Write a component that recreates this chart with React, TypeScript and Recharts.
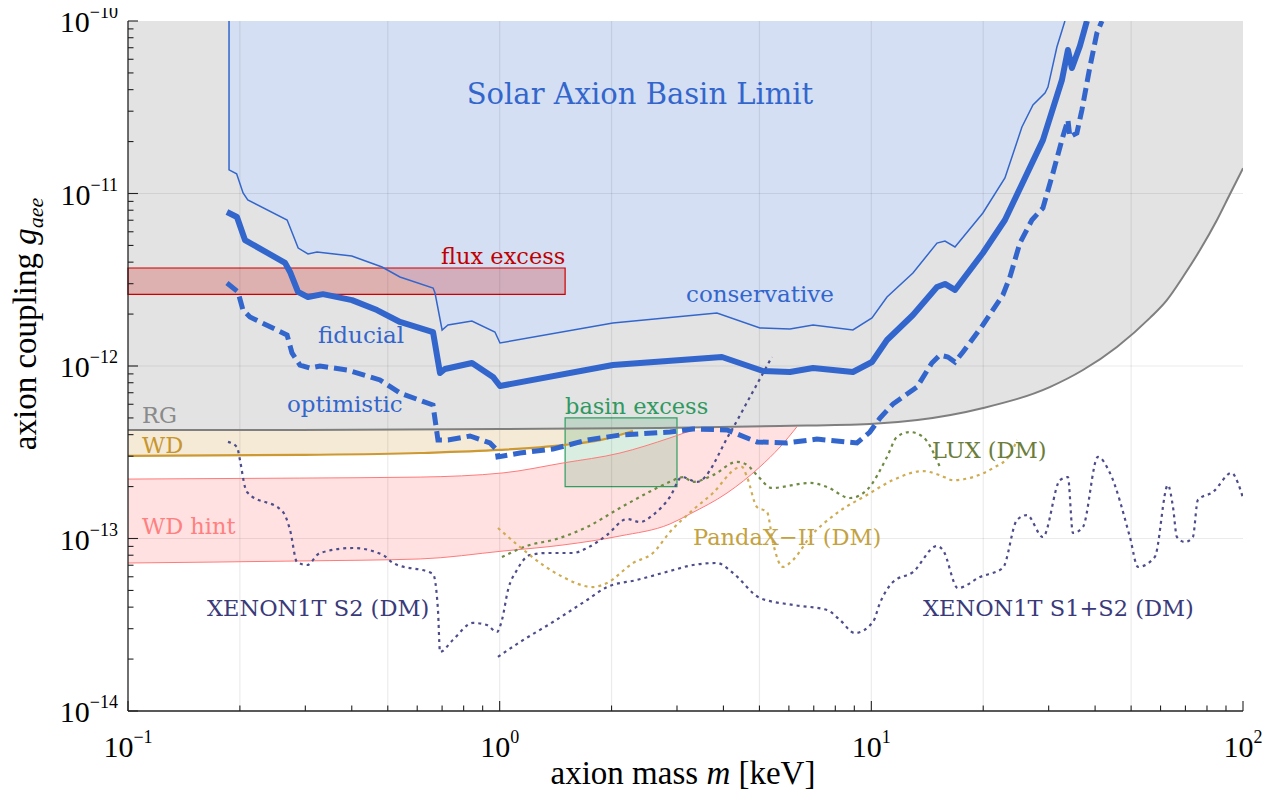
import React from "react";
import {
  ComposedChart,
  Area,
  Line,
  XAxis,
  YAxis,
  ReferenceArea,
  ReferenceLine,
} from "recharts";

type Pt = [number, number];

// axis ticks (log axes, minor ticks at 2..9)
const massTicks = [
  0.1, 0.2, 0.3, 0.4, 0.5, 0.6, 0.7, 0.8, 0.9,
  1, 2, 3, 4, 5, 6, 7, 8, 9,
  10, 20, 30, 40, 50, 60, 70, 80, 90, 100,
];
const couplingTicks = [
  1e-14, 2e-14, 3e-14, 4e-14, 5e-14, 6e-14, 7e-14, 8e-14, 9e-14,
  1e-13, 2e-13, 3e-13, 4e-13, 5e-13, 6e-13, 7e-13, 8e-13, 9e-13,
  1e-12, 2e-12, 3e-12, 4e-12, 5e-12, 6e-12, 7e-12, 8e-12, 9e-12,
  1e-11, 2e-11, 3e-11, 4e-11, 5e-11, 6e-11, 7e-11, 8e-11, 9e-11,
  1e-10,
];
const massGrid = [0.2, 0.5, 1, 2, 5, 10, 20, 50];
const couplingGrid = [1e-13, 1e-12, 1e-11];
const massDomain = [0.1, 100];
const couplingDomain = [1e-14, 1e-10];

// [mass keV, g_aee]
const redGiant: Pt[] = [
  [0.1, 4.26e-13], [0.29, 4.26e-13], [1.0, 4.31e-13], [2.7, 4.37e-13],
  [5.68, 4.49e-13], [9.91, 4.61e-13], [13.3, 4.86e-13], [20, 5.71e-13],
  [30.2, 7.55e-13], [37.1, 9.48e-13], [45.8, 1.29e-12], [56.2, 1.9e-12],
  [62.4, 2.41e-12], [68.9, 3.28e-12], [76.6, 4.7e-12], [85.1, 7.02e-12],
  [92.2, 9.9e-12], [100, 1.4e-11],
];

const conservative: Pt[] = [
  [0.187, 1e-10], [0.187, 1.37e-11], [0.196, 1.3e-11], [0.204, 1.007e-11],
  [0.21, 9.17e-12], [0.268, 7.02e-12], [0.276, 5.98e-12], [0.287, 4.83e-12],
  [0.305, 4.46e-12], [0.3225, 4.58e-12], [0.4, 4.34e-12], [0.4825, 3.75e-12],
  [0.539, 3.28e-12], [0.662, 2.83e-12], [0.67, 2.65e-12], [0.7, 1.617e-12],
  [0.726, 1.729e-12], [0.842, 1.823e-12], [0.971, 1.574e-12], [1.002, 1.359e-12],
  [2.017, 1.775e-12], [3.842, 2.03e-12], [5.016, 1.661e-12], [6.04, 1.639e-12],
  [6.97, 1.729e-12], [8.92, 1.617e-12], [10.04, 1.898e-12], [11.02, 2.512e-12],
  [12.94, 3.46e-12], [15.02, 5.16e-12], [15.78, 5.3e-12], [16.79, 4.9e-12],
  [19.96, 7.71e-12], [22.88, 1.23e-11], [25.42, 2.43e-11], [27.22, 3.26e-11],
  [29.32, 3.82e-11], [29.87, 4.14e-11], [31.57, 7.07e-11], [33.18, 1e-10],
];

const fiducial: Pt[] = [
  [0.1846, 7.81e-12], [0.1964, 7.31e-12], [0.2064, 5.37e-12], [0.2646, 3.96e-12],
  [0.2729, 3.51e-12], [0.2867, 2.69e-12], [0.305, 2.51e-12], [0.3346, 2.61e-12],
  [0.4005, 2.41e-12], [0.4676, 2.11e-12], [0.5393, 1.8e-12], [0.6617, 1.574e-12],
  [0.691, 9.11e-13], [0.7124, 9.61e-13], [0.8424, 1.041e-12], [0.9594, 8.64e-13],
  [1.002, 7.66e-13], [2.017, 1.013e-12], [3.963, 1.128e-12], [5.11, 9.35e-13],
  [6.04, 9.23e-13], [6.97, 9.74e-13], [8.92, 9.23e-13], [10.04, 1.055e-12],
  [11.02, 1.415e-12], [12.94, 1.975e-12], [15.02, 2.87e-12], [15.78, 2.99e-12],
  [16.79, 2.76e-12], [19.96, 4.52e-12], [22.88, 7.02e-12], [28.95, 2.04e-11],
  [32.57, 4.55e-11], [33.8, 6.79e-11], [34.65, 5.34e-11], [36.41, 7.16e-11],
  [38.02, 1e-10],
];

const optimistic: Pt[] = [
  [0.1846, 3.03e-12], [0.1976, 2.69e-12], [0.2039, 2.11e-12], [0.2129, 1.923e-12],
  [0.2679, 1.513e-12], [0.2762, 1.19e-12], [0.2902, 1.013e-12], [0.3087, 9.74e-13],
  [0.3284, 1e-12], [0.3884, 9.48e-13], [0.4764, 8.3e-13], [0.5393, 6.97e-13],
  [0.6617, 5.94e-13], [0.6823, 3.72e-13], [0.7261, 3.72e-13], [0.832, 3.93e-13],
  [0.9417, 3.58e-13], [0.983, 3.26e-13], [0.9895, 2.97e-13], [1.134, 3.13e-13],
  [1.391, 3.3e-13], [1.718, 3.72e-13], [2.107, 3.98e-13], [2.872, 4.14e-13],
  [3.311, 4.31e-13], [4.09, 4.26e-13], [4.923, 3.63e-13], [5.93, 3.58e-13],
  [7.14, 3.77e-13], [9.15, 3.58e-13], [9.91, 4.14e-13], [10.55, 4.99e-13],
  [11.43, 6.02e-13], [13.27, 7.55e-13], [14.55, 1.041e-12], [15.29, 1.158e-12],
  [16.07, 1.128e-12], [16.79, 1.055e-12], [17.64, 1.206e-12], [19.96, 1.729e-12],
  [22.59, 2.58e-12], [23.6, 3.28e-12], [25.1, 5.16e-12], [27.04, 7.02e-12],
  [28.95, 8.24e-12], [30.81, 1.315e-11], [32.78, 2.15e-11], [33.8, 2.67e-11],
  [34.21, 2.13e-11], [35.73, 2.24e-11], [36.86, 3.05e-11], [38.73, 5.41e-11],
  [40.45, 8.52e-11], [41.73, 1e-10],
];

const whiteDwarf: Pt[] = [
  [0.1, 3.01e-13], [0.29, 3.05e-13], [0.611, 3.13e-13], [1.0, 3.26e-13],
  [1.48, 3.48e-13], [1.862, 3.72e-13], [2.284, 4.2e-13],
];
const whiteDwarfTop = 4.3e-13;

const hintMass = [0.1, 0.29, 0.611, 1.021, 1.48, 2.107, 2.872, 3.25, 4.09, 5.01, 5.68, 6.31];
const hintLow = [
  7.21e-14, 7.41e-14, 7.61e-14, 8.46e-14, 9.17e-14, 1.034e-13,
  1.214e-13, 1.387e-13, 1.835e-13, 2.597e-13, 3.39e-13, 4.45e-13,
];
const hintHigh = [
  2.21e-13, 2.24e-13, 2.27e-13, 2.4e-13, 2.74e-13, 3.13e-13,
  3.83e-13, 4.2e-13, 4.42e-13, 4.46e-13, 4.49e-13, 4.52e-13,
];

const xenonS2: Pt[] = [
  [0.1858, 3.63e-13], [0.1964, 3.39e-13], [0.2001, 2.85e-13], [0.2064, 1.99e-13],
  [0.209, 1.86e-13], [0.2612, 1.424e-13], [0.2729, 1.12e-13], [0.2849, 7.31e-14],
  [0.3032, 7.02e-14], [0.3284, 8.24e-14], [0.403, 8.81e-14], [0.4853, 8.02e-14],
  [0.5164, 7.21e-14], [0.6617, 6.23e-14], [0.6823, 3.85e-14], [0.691, 2.2e-14],
  [0.7483, 2.58e-14], [0.8476, 3.24e-14], [0.9243, 3.15e-14], [0.983, 2.87e-14],
  [1.0144, 3.37e-14], [1.053, 5.03e-14], [1.113, 6.57e-14], [1.206, 8.02e-14],
  [1.34, 8.24e-14], [1.575, 8.24e-14], [1.718, 8.81e-14], [1.944, 1.048e-13],
  [2.2, 1.297e-13], [2.385, 1.246e-13], [2.585, 1.368e-13], [2.872, 1.74e-13],
  [3.094, 2.27e-13], [3.395, 2.13e-13], [4.166, 4.09e-13], [4.714, 6.61e-13],
  [5.4, 1.128e-12],
];

const xenonS1S2: Pt[] = [
  [0.9895, 2.06e-14], [1.134, 2.51e-14], [1.391, 3.28e-14], [1.718, 4.4e-14],
  [1.944, 5.23e-14], [2.341, 5.75e-14], [2.872, 6.48e-14], [3.311, 7.02e-14],
  [3.842, 7.21e-14], [4.243, 6.31e-14], [5.016, 4.52e-14], [6.152, 4.12e-14],
  [7.6, 3.85e-14], [8.234, 3.37e-14], [9.03, 2.83e-14], [10.1, 3.28e-14],
  [10.55, 4.23e-14], [11.43, 5.59e-14], [12.94, 6.39e-14], [15.02, 9.05e-14],
  [15.58, 8.58e-14], [17.1, 5.16e-14], [19.6, 5.98e-14], [22.59, 6.75e-14],
  [24.65, 1.28e-13], [26.22, 1.368e-13], [28.95, 1.02e-13], [32.17, 2.18e-13],
  [33.8, 2.27e-13], [34.86, 1.076e-13], [37.09, 1.166e-13], [40.7, 2.97e-13],
  [43.85, 2.4e-13], [49.63, 1.02e-13], [52.15, 6.84e-14], [57.9, 7.81e-14],
  [62.8, 2.04e-13], [64.8, 1.523e-13], [66.4, 1.02e-13], [69.8, 9.54e-14],
  [73.3, 1.02e-13], [75.6, 1.672e-13], [83, 1.86e-13], [93.3, 2.4e-13],
  [96.9, 2.1e-13], [100, 1.717e-13],
];

const lux: Pt[] = [
  [1.0144, 7.81e-14], [1.206, 9.17e-14], [1.391, 9.8e-14], [1.718, 1.166e-13],
  [2.107, 1.503e-13], [2.585, 1.91e-13], [2.872, 2.13e-13], [3.112, 2.27e-13],
  [3.311, 2.13e-13], [3.748, 2.33e-13], [4.35, 2.78e-13], [4.63, 2.67e-13],
  [4.923, 2.33e-13], [5.4, 1.963e-13], [6.84, 2.1e-13], [7.6, 1.99e-13],
  [8.76, 1.717e-13], [9.73, 1.91e-13], [11.02, 2.97e-13], [11.72, 3.88e-13],
  [12.7, 4.14e-13], [13.77, 3.88e-13], [15.29, 2.6e-13],
];

const pandax: Pt[] = [
  [0.9895, 1.151e-13], [1.134, 8.93e-14], [1.308, 7.02e-14], [1.48, 5.98e-14],
  [1.782, 5.23e-14], [1.944, 5.52e-14], [2.284, 7.21e-14], [2.585, 8.24e-14],
  [2.872, 1.091e-13], [3.311, 1.463e-13], [3.748, 1.835e-13], [4.35, 2.56e-13],
  [4.486, 2.6e-13], [4.63, 2.27e-13], [4.923, 1.523e-13], [5.24, 1.424e-13],
  [5.44, 9.42e-14], [5.78, 6.84e-14], [6.152, 7.5e-14], [6.84, 1.02e-13],
  [8.08, 1.405e-13], [9.73, 1.787e-13], [11.43, 2.18e-13], [13.77, 2.46e-13],
  [15.29, 2.33e-13], [16.58, 2.18e-13], [18.76, 2.27e-13], [21.24, 2.56e-13],
  [23.6, 3.05e-13], [24.65, 3.72e-13],
];

const fluxExcessMass = [0.1, 1.5];
const fluxExcessG = [2.6e-12, 3.7e-12];
const basinExcessMass = [1.5, 3];
const basinExcessG = [2e-13, 5e-13];

const rows = (pts: Pt[]) => pts.map(([m, g]) => ({ m, g }));
const hintRows = hintMass.map((m, i) => ({ m, lo: hintLow[i], hi: hintHigh[i] }));

const W = 1273;
const H = 793;
const SERIF = "'Liberation Serif', 'Times New Roman', serif";
const LABEL = "'DejaVu Serif', serif";
const BLUE = "#3366cc";
const XENON = "#4d4d8c";

const isDecade = (v: number) =>
  Math.abs(Math.log10(v) - Math.round(Math.log10(v))) < 1e-6;

function Power({ x, y, v, anchor }: { x: number; y: number; v: number; anchor: "middle" | "end" }) {
  const e = Math.round(Math.log10(v));
  return (
    <text x={x} y={y} textAnchor={anchor} fontFamily={SERIF} fill="#000">
      <tspan fontSize={30}>10</tspan>
      <tspan fontSize={18} dy={-14}>
        {e < 0 ? "\u2212" + -e : String(e)}
      </tspan>
    </text>
  );
}

const tickFor = (side: "bottom" | "top" | "left" | "right") => (props: any) => {
  const { x, y, payload } = props;
  const v = payload.value;
  const major = isDecade(v);
  const len = major ? 10 : 5.5;
  const dx = side === "left" ? len : side === "right" ? -len : 0;
  const dy = side === "bottom" ? -len : side === "top" ? len : 0;
  return (
    <g>
      <line x1={x} y1={y} x2={x + dx} y2={y + dy} stroke="#222" strokeWidth={1.1} />
      {major && side === "bottom" && <Power x={x} y={y + 46} v={v} anchor="middle" />}
      {major && side === "left" && <Power x={x - 10} y={y + 11} v={v} anchor="end" />}
    </g>
  );
};

const axisLine = { stroke: "#222", strokeWidth: 1.3 };
const dotted = "3 4";

export default function App() {
  return (
    <div style={{ position: "relative", width: W, height: H, margin: "-8px 0 0 -8px" }}>
      <ComposedChart width={W} height={H} margin={{ top: 21, right: 30, bottom: 22, left: 16 }}>
        <Area
          data={rows(redGiant)}
          dataKey={(d: any) => [d.g, 1e-10]}
          type="monotone"
          fill="#e3e3e3"
          fillOpacity={1}
          stroke="none"
          activeDot={false}
          isAnimationActive={false}
        />
        <Area
          data={rows(conservative)}
          dataKey={(d: any) => [d.g, 1e-10]}
          type="linear"
          fill="#d4dff3"
          fillOpacity={1}
          stroke="none"
          activeDot={false}
          isAnimationActive={false}
        />
        <Area
          data={rows(whiteDwarf)}
          dataKey={(d: any) => [d.g, whiteDwarfTop]}
          type="monotone"
          fill="#f5ead6"
          fillOpacity={1}
          stroke="none"
          activeDot={false}
          isAnimationActive={false}
        />
        <Area
          data={hintRows}
          dataKey={(d: any) => [d.lo, d.hi]}
          type="monotone"
          fill="#ffe1e1"
          fillOpacity={1}
          stroke="none"
          activeDot={false}
          isAnimationActive={false}
        />

        {massGrid.map((v) => (
          <ReferenceLine key={"gx" + v} x={v} stroke="#000" strokeOpacity={0.08} strokeWidth={1.2} />
        ))}
        {couplingGrid.map((v) => (
          <ReferenceLine key={"gy" + v} y={v} stroke="#000" strokeOpacity={0.08} strokeWidth={1.2} />
        ))}

        <ReferenceArea
          x1={fluxExcessMass[0]}
          x2={fluxExcessMass[1]}
          y1={fluxExcessG[0]}
          y2={fluxExcessG[1]}
          fill="#cc0000"
          fillOpacity={0.22}
          stroke="#cc0000"
          strokeWidth={1.2}
        />
        <ReferenceArea
          x1={basinExcessMass[0]}
          x2={basinExcessMass[1]}
          y1={basinExcessG[0]}
          y2={basinExcessG[1]}
          fill="#1f9950"
          fillOpacity={0.17}
          stroke="#2f9e62"
          strokeWidth={1.2}
        />

        <Line data={rows(redGiant)} dataKey="g" type="monotone" stroke="#7f7f7f" strokeWidth={2} dot={false} activeDot={false} isAnimationActive={false} />
        <Line data={rows(whiteDwarf)} dataKey="g" type="monotone" stroke="#cc9933" strokeWidth={2.2} dot={false} activeDot={false} isAnimationActive={false} />
        <Line data={hintRows} dataKey="lo" type="monotone" stroke="#ff7a7a" strokeWidth={1} dot={false} activeDot={false} isAnimationActive={false} />
        <Line data={hintRows.slice(0, 8)} dataKey="hi" type="monotone" stroke="#ff7a7a" strokeWidth={1} dot={false} activeDot={false} isAnimationActive={false} />

        <Line data={rows(xenonS2)} dataKey="g" type="monotone" stroke={XENON} strokeWidth={2.2} strokeDasharray={dotted} dot={false} activeDot={false} isAnimationActive={false} />
        <Line data={rows(xenonS1S2)} dataKey="g" type="monotone" stroke={XENON} strokeWidth={2.2} strokeDasharray={dotted} dot={false} activeDot={false} isAnimationActive={false} />
        <Line data={rows(lux)} dataKey="g" type="monotone" stroke="#6f8a42" strokeWidth={2.2} strokeDasharray={dotted} dot={false} activeDot={false} isAnimationActive={false} />
        <Line data={rows(pandax)} dataKey="g" type="monotone" stroke="#cfac52" strokeWidth={2.2} strokeDasharray={dotted} dot={false} activeDot={false} isAnimationActive={false} />

        <Line data={rows(conservative)} dataKey="g" type="linear" stroke={BLUE} strokeWidth={1.5} dot={false} activeDot={false} isAnimationActive={false} />
        <Line data={rows(fiducial)} dataKey="g" type="linear" stroke={BLUE} strokeWidth={6} strokeLinejoin="round" dot={false} activeDot={false} isAnimationActive={false} />
        <Line data={rows(optimistic)} dataKey="g" type="linear" stroke={BLUE} strokeWidth={5} strokeDasharray="13 6" dot={false} activeDot={false} isAnimationActive={false} />

        <XAxis
          type="number"
          dataKey="m"
          scale="log"
          domain={massDomain}
          allowDataOverflow
          ticks={massTicks}
          interval={0}
          tickLine={false}
          tickSize={0}
          tickMargin={0}
          tick={tickFor("bottom")}
          axisLine={axisLine}
          height={60}
        />
        <XAxis
          xAxisId="top"
          orientation="top"
          type="number"
          dataKey="m"
          scale="log"
          domain={massDomain}
          allowDataOverflow
          ticks={massTicks}
          interval={0}
          tickLine={false}
          tickSize={0}
          tickMargin={0}
          tick={tickFor("top")}
          axisLine={axisLine}
          height={0}
        />
        <YAxis
          type="number"
          scale="log"
          domain={couplingDomain}
          allowDataOverflow
          ticks={couplingTicks}
          interval={0}
          tickLine={false}
          tickSize={0}
          tickMargin={0}
          tick={tickFor("left")}
          axisLine={axisLine}
          width={112}
        />
        <YAxis
          yAxisId="right"
          orientation="right"
          type="number"
          scale="log"
          domain={couplingDomain}
          allowDataOverflow
          ticks={couplingTicks}
          interval={0}
          tickLine={false}
          tickSize={0}
          tickMargin={0}
          tick={tickFor("right")}
          axisLine={axisLine}
          width={0}
        />
      </ComposedChart>

      <svg
        width={W}
        height={H}
        style={{ position: "absolute", left: 0, top: 0, pointerEvents: "none" }}
      >
        <g fontFamily={LABEL}>
          <text x={640} y={104} textAnchor="middle" fontSize={29} fill={BLUE}>
            Solar Axion Basin Limit
          </text>
          <text x={686} y={302} fontSize={23} fill={BLUE}>conservative</text>
          <text x={318} y={343} fontSize={23} fill={BLUE}>fiducial</text>
          <text x={287} y={412} fontSize={23} fill={BLUE}>optimistic</text>
          <text x={441} y={264} fontSize={22.5} fill="#c00000">flux excess</text>
          <text x={565} y={414} fontSize={22.5} fill="#2e9960">basin excess</text>
          <text x={142} y={423} fontSize={22.5} fill="#8a8a8a">RG</text>
          <text x={142} y={453} fontSize={22.5} fill="#c8962e">WD</text>
          <text x={142} y={534} fontSize={22.5} fill="#ff8080">WD hint</text>
          <text x={207} y={616} fontSize={22.5} fill="#3a3a7a">XENON1T S2 (DM)</text>
          <text x={923} y={616} fontSize={22.5} fill="#3a3a7a">XENON1T S1+S2 (DM)</text>
          <text x={932} y={458} fontSize={22.5} fill="#6b7d3a">LUX (DM)</text>
          <text x={693} y={545} fontSize={22.5} fill="#c4a23f">PandaX{"\u2212"}II (DM)</text>
        </g>
        <text x={683} y={784} textAnchor="middle" fontFamily={SERIF} fontSize={33} fill="#000">
          axion mass <tspan fontStyle="italic">m</tspan> [keV]
        </text>
        <text
          transform="translate(36,324) rotate(-90)"
          textAnchor="middle"
          fontFamily={SERIF}
          fontSize={33}
          fill="#000"
        >
          axion coupling <tspan fontStyle="italic">g</tspan>
          <tspan fontStyle="italic" fontSize={22} dy={7}>aee</tspan>
        </text>
      </svg>
    </div>
  );
}
